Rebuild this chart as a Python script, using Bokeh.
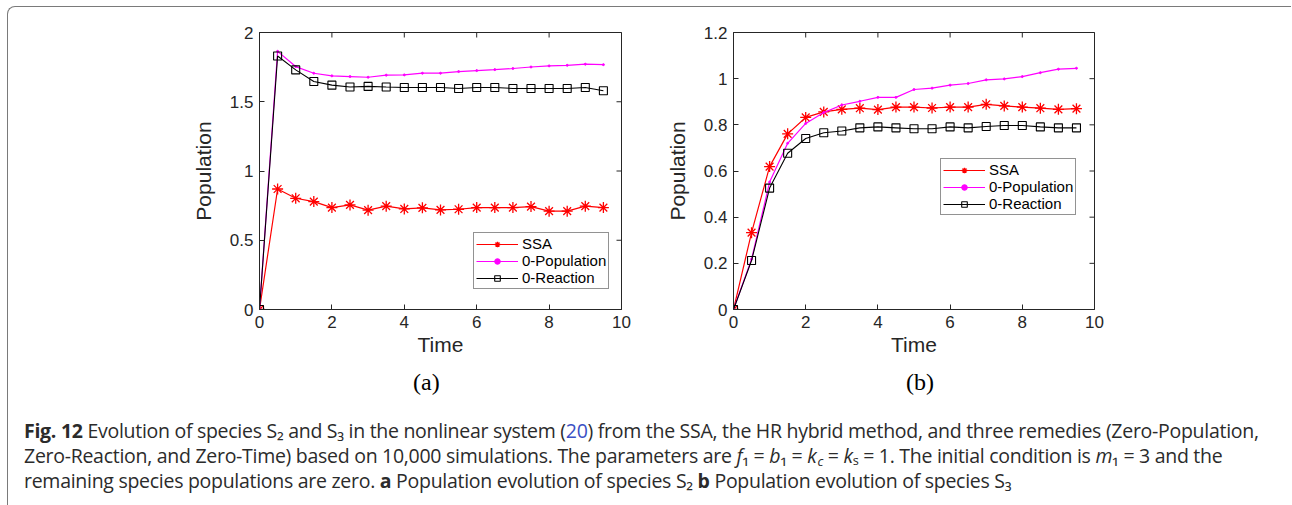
import math
from bokeh.plotting import figure
from bokeh.models import Range1d, FixedTicker, LinearAxis, Legend, LegendItem, Div
from bokeh.layouts import column, row
from bokeh.embed import file_html
from bokeh.resources import INLINE

# ---------------- data ----------------
time = [0, 0.5, 1, 1.5, 2, 2.5, 3, 3.5, 4, 4.5, 5, 5.5, 6, 6.5, 7, 7.5, 8, 8.5, 9, 9.5]
series_names = ["SSA", "0-Population", "0-Reaction"]

# panel (a): species S2
a_ssa = [0, 0.870, 0.803, 0.779, 0.736, 0.755, 0.717, 0.746, 0.726, 0.734,
         0.719, 0.724, 0.736, 0.736, 0.736, 0.743, 0.710, 0.710, 0.746, 0.736]
a_pop = [0, 1.864, 1.754, 1.706, 1.687, 1.682, 1.677, 1.692, 1.694, 1.706,
         1.706, 1.718, 1.725, 1.732, 1.740, 1.751, 1.759, 1.763, 1.771, 1.768]
a_react = [0, 1.830, 1.730, 1.646, 1.620, 1.606, 1.611, 1.606, 1.603, 1.603,
           1.603, 1.596, 1.603, 1.603, 1.596, 1.596, 1.596, 1.596, 1.603, 1.579]

# panel (b): species S3
b_ssa = [0, 0.333, 0.619, 0.761, 0.832, 0.856, 0.867, 0.872, 0.866, 0.877,
         0.877, 0.873, 0.877, 0.877, 0.889, 0.882, 0.877, 0.872, 0.867, 0.870]
b_pop = [0, 0.218, 0.552, 0.720, 0.806, 0.853, 0.886, 0.902, 0.919, 0.919,
         0.953, 0.959, 0.972, 0.979, 0.995, 0.999, 1.009, 1.026, 1.041, 1.045]
b_react = [0, 0.212, 0.526, 0.677, 0.741, 0.766, 0.773, 0.787, 0.791, 0.787,
           0.783, 0.783, 0.791, 0.787, 0.793, 0.797, 0.797, 0.791, 0.787, 0.787]

x_ticks = [0, 2, 4, 6, 8, 10]
x_tick_labels = ["0", "2", "4", "6", "8", "10"]
a_y_ticks = [0, 0.5, 1, 1.5, 2]
a_y_tick_labels = ["0", "0.5", "1", "1.5", "2"]
b_y_ticks = [0, 0.2, 0.4, 0.6, 0.8, 1, 1.2]
b_y_tick_labels = ["0", "0.2", "0.4", "0.6", "0.8", "1", "1.2"]

AX = "#262626"
FONT = "Liberation Sans"


def style_axis(ax, ticks, labels, label_text, standoff):
    ax.ticker = FixedTicker(ticks=ticks)
    ax.major_label_overrides = {t: l for t, l in zip(ticks, labels)}
    ax.minor_tick_line_color = None
    ax.major_tick_in = 5
    ax.major_tick_out = 0
    ax.axis_line_color = AX
    ax.major_tick_line_color = AX
    ax.major_label_text_font = FONT
    ax.major_label_text_color = AX
    ax.major_label_text_font_size = "17px"
    ax.major_label_standoff = 6
    ax.axis_label = label_text
    ax.axis_label_text_font = FONT
    ax.axis_label_text_font_size = "21px"
    ax.axis_label_text_font_style = "normal"
    ax.axis_label_text_color = AX
    ax.axis_label_standoff = standoff


def make_panel(width, mb_left, mb_right, yend, yticks, ylabels, ssa, pop, react, legend_loc):
    p = figure(width=width, height=358, x_range=Range1d(0, 10), y_range=Range1d(0, yend),
               output_backend="svg", toolbar_location=None,
               min_border_left=mb_left, min_border_right=mb_right,
               min_border_top=32, min_border_bottom=47,
               x_axis_type=None, y_axis_type=None)
    p.grid.visible = False
    p.outline_line_color = AX
    p.outline_line_width = 1

    xb = LinearAxis()
    style_axis(xb, x_ticks, x_tick_labels, "Time", 2)
    p.add_layout(xb, "below")
    yl = LinearAxis()
    style_axis(yl, yticks, ylabels, "Population", 12)
    p.add_layout(yl, "left")

    # inward tick marks on the top and right edges of the box (clipped to the frame)
    p.scatter(x_ticks, [yend] * len(x_ticks), marker="dash", size=10, angle=math.pi / 2,
              line_color=AX, line_width=1)
    p.scatter([10] * len(yticks), yticks, marker="dash", size=10, angle=0,
              line_color=AX, line_width=1)

    l1 = p.line(time, ssa, line_color="#ff0000", line_width=1.2)
    m1 = p.scatter(time, ssa, marker="asterisk", size=11, line_color="#ff0000", line_width=1.3)
    l2 = p.line(time, pop, line_color="#ff00ff", line_width=1.2)
    m2 = p.scatter(time, pop, marker="circle", size=2, line_color="#ff00ff", fill_color="#ff00ff")
    l3 = p.line(time, react, line_color="#000000", line_width=1.1)
    m3 = p.scatter(time, react, marker="square", size=8, line_color="#000000",
                   fill_color=None, line_width=1.1)

    legend = Legend(items=[
        LegendItem(label=series_names[0], renderers=[l1, m1]),
        LegendItem(label=series_names[1], renderers=[l2, m2]),
        LegendItem(label=series_names[2], renderers=[l3, m3]),
    ], location=legend_loc)
    legend.border_line_color = AX
    legend.border_line_width = 1
    legend.background_fill_color = "white"
    legend.background_fill_alpha = 1
    legend.label_text_font = FONT
    legend.label_text_font_size = "15px"
    legend.label_text_color = "#000000"
    legend.glyph_width = 42
    legend.glyph_height = 14
    legend.label_height = 14
    legend.label_standoff = 4
    legend.spacing = 0
    legend.padding = 2
    legend.margin = 0
    p.add_layout(legend)
    return p


pa = make_panel(660, 259, 39, 2, a_y_ticks, a_y_tick_labels, a_ssa, a_pop, a_react, (214, 20))
pb = make_panel(632, 73, 198, 1.2, b_y_ticks, b_y_tick_labels, b_ssa, b_pop, b_react, (207, 94))

SUB = "font-size:0.66em;position:relative;top:0.2em;line-height:0;margin-left:1px;"
caption_html = f"""
<div style="position:relative;width:1292px;height:147px;color:#2b2b2b;">
  <div style="position:absolute;left:7px;top:-352px;width:1284px;height:520px;box-sizing:border-box;
       border-top:1.5px solid #7a7a7a;border-left:1.5px solid #7a7a7a;
       border-top-left-radius:8px;pointer-events:none;"></div>
  <div style="position:absolute;left:413px;top:10px;font-family:'Liberation Serif';font-size:24px;line-height:28px;color:#000;">(a)</div>
  <div style="position:absolute;left:906px;top:10px;font-family:'Liberation Serif';font-size:24px;line-height:28px;color:#000;">(b)</div>
  <div style="position:absolute;left:24px;top:60px;font-family:'Open Sans';font-size:19.5px;line-height:25px;white-space:nowrap;letter-spacing:-0.28px;">
    <b>Fig. 12</b> Evolution of species S₂ and S₃ in the nonlinear system (<span style="color:#3a4fc4">20</span>) from the SSA, the HR hybrid method, and three remedies (Zero-Population,<br>
    Zero-Reaction, and Zero-Time) based on 10,000 simulations. The parameters are <i>f</i>₁ = <i>b</i>₁ = <i>k</i><i style="{SUB}">c</i> = <i>k</i>ₛ = 1. The initial condition is <i>m</i>₁ = 3 and the<br>
    remaining species populations are zero. <b>a</b> Population evolution of species S₂ <b>b</b> Population evolution of species S₃
  </div>
</div>
"""
caption = Div(text=caption_html, width=1292, height=147, margin=(0, 0, 0, 0))

layout = column(row(pa, pb), caption)

open("out.html", "w").write(file_html(layout, INLINE))
